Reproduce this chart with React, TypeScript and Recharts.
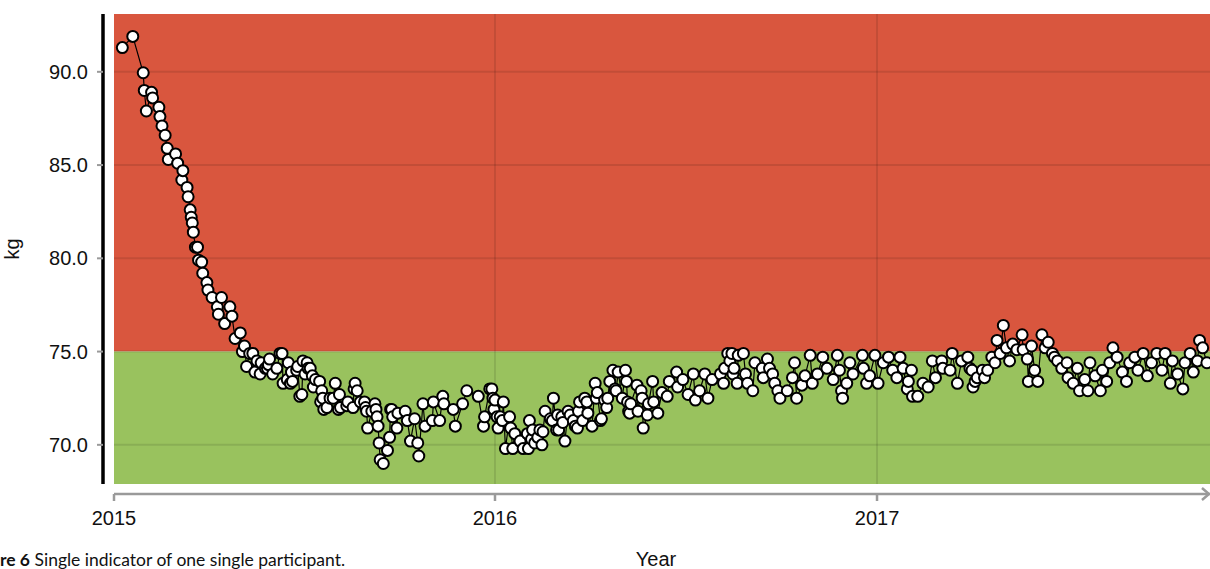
import { ComposedChart, Line, XAxis, YAxis, ReferenceArea, ReferenceLine, Label } from 'recharts'

// day = days since 1 Jan 2015, kg = body weight reading
const readings2015 = [
  [8, 91.3], [18, 91.9], [28, 89.95], [29, 89.0], [31, 87.9], [36, 88.9], [37, 88.6], [43, 88.1],
  [44, 87.6], [46, 87.1], [49, 86.6], [51, 85.9], [52, 85.3], [59, 85.6], [61, 85.1], [65, 84.2],
  [66, 84.7], [70, 83.8], [71, 83.3], [73, 82.6], [74, 82.2], [75, 81.9], [76, 81.4], [78, 80.6],
  [80, 80.6], [81, 79.9], [84, 79.8], [85, 79.2], [89, 78.7], [90, 78.3], [94, 77.9], [99, 77.4],
  [100, 77.0], [103, 77.9], [106, 76.5], [111, 77.4], [113, 76.9], [116, 75.7], [121, 76.0], [123, 75.0],
  [125, 75.3], [127, 74.2], [130, 74.9], [133, 74.9], [135, 73.9], [137, 74.5], [140, 73.8], [141, 74.4],
  [145, 74.1], [147, 74.1], [148, 74.3], [149, 74.6], [152, 73.8], [156, 74.1], [159, 74.9], [161, 74.9],
  [162, 73.3], [166, 73.5], [167, 74.4], [169, 73.3], [170, 73.9], [171, 73.4], [175, 74.0], [176, 74.2],
  [178, 72.6], [180, 72.7], [181, 74.5], [183, 73.8], [185, 74.4], [186, 74.1], [188, 74.1], [190, 73.7],
  [191, 73.1], [193, 73.5], [197, 73.4], [198, 72.3], [199, 72.9], [200, 72.5], [201, 71.9], [204, 72.0],
  [207, 72.5], [210, 72.5], [212, 73.3], [215, 71.9], [216, 72.7], [217, 72.0], [223, 72.1], [224, 72.3],
  [229, 72.0], [230, 73.0], [231, 73.3], [233, 72.9], [236, 72.3], [240, 72.3], [241, 72.0], [242, 71.8],
  [243, 70.9], [247, 71.8], [250, 72.2], [251, 71.9], [252, 71.5], [253, 71.0], [254, 70.1], [255, 69.2],
  [258, 69.0], [262, 69.7], [264, 70.4], [265, 71.9], [266, 71.9], [267, 71.5], [271, 70.9], [272, 71.7],
  [279, 71.8], [281, 71.3], [284, 70.2], [288, 71.4], [291, 70.1], [292, 69.4], [296, 72.2], [298, 71.0],
  [305, 71.3], [306, 72.3], [312, 71.3], [315, 72.6], [316, 72.2], [325, 71.9], [327, 71.0], [334, 72.2],
  [338, 72.9], [349, 72.6], [354, 71.0], [355, 71.5], [360, 73.0], [362, 73.0], [363, 72.5], [364, 71.9],
]

const readings2016 = [
  [365, 72.4], [367, 71.5], [368, 70.9], [370, 71.5], [372, 71.3], [373, 72.3], [375, 69.8], [379, 71.5],
  [380, 70.9], [382, 69.8], [384, 70.6], [389, 70.2], [392, 69.8], [396, 70.6], [397, 69.8], [398, 71.3],
  [400, 70.3], [401, 70.8], [403, 70.1], [406, 70.4], [408, 70.8], [410, 70.0], [411, 70.7], [413, 71.8],
  [418, 71.4], [420, 71.3], [421, 72.5], [424, 70.8], [425, 71.6], [426, 70.8], [429, 71.5], [430, 71.2],
  [432, 70.2], [435, 71.8], [437, 71.6], [440, 71.3], [442, 71.0], [444, 70.9], [445, 71.8], [446, 72.3],
  [449, 71.3], [451, 72.5], [453, 72.3], [454, 71.7], [458, 71.0], [461, 73.3], [462, 72.5], [463, 72.8],
  [466, 71.3], [467, 71.4], [470, 72.4], [472, 72.0], [473, 72.5], [475, 73.4], [478, 74.0], [480, 73.0],
  [481, 72.9], [483, 73.9], [487, 72.5], [490, 74.0], [491, 73.4], [492, 72.3], [493, 71.8], [494, 71.7],
  [495, 72.2], [501, 73.2], [502, 71.8], [505, 72.9], [506, 72.5], [507, 70.9], [511, 71.6], [512, 72.2],
  [516, 73.4], [517, 72.3], [521, 71.7], [525, 72.8], [530, 72.6], [532, 73.4], [539, 73.9], [540, 73.1],
  [545, 73.5], [550, 72.7], [555, 73.8], [557, 72.4], [561, 72.9], [566, 73.8], [569, 72.5], [573, 73.5],
  [581, 73.8], [584, 73.3], [585, 74.1], [588, 74.9], [590, 74.5], [592, 74.9], [593, 73.8], [594, 74.1],
  [597, 73.3], [598, 74.8], [603, 74.9], [605, 73.8], [607, 73.3], [612, 72.9], [614, 74.4], [621, 74.1],
  [622, 73.6], [626, 74.6], [628, 74.1], [631, 73.8], [633, 73.3], [636, 72.9], [638, 72.5], [645, 72.9],
  [650, 73.6], [652, 74.4], [654, 72.5], [659, 73.2], [662, 73.7], [667, 74.8], [669, 73.3], [674, 73.8],
  [679, 74.7], [683, 74.1], [689, 73.5], [693, 74.8], [695, 74.0], [697, 72.9], [698, 72.5], [702, 73.3],
  [705, 74.4], [708, 73.8], [717, 74.8], [718, 74.1], [721, 73.3], [724, 73.7], [729, 74.8],
]

const readings2017 = [
  [732, 73.3], [737, 74.4], [742, 74.7], [746, 74.0], [750, 73.6], [753, 74.7], [756, 74.1], [760, 73.0],
  [761, 73.4], [764, 74.0], [765, 72.6], [770, 72.6], [775, 73.3], [780, 73.1], [784, 74.5], [787, 73.6],
  [793, 74.5], [794, 74.1], [801, 74.0], [803, 74.9], [808, 73.3], [812, 74.5], [818, 74.7], [820, 74.1],
  [822, 74.0], [823, 73.1], [825, 73.4], [827, 73.6], [832, 74.0], [834, 73.6], [837, 74.0], [841, 74.7],
  [844, 74.4], [846, 75.6], [849, 74.9], [852, 76.4], [855, 75.2], [858, 74.5], [861, 75.4], [865, 75.1],
  [870, 75.9], [871, 75.1], [875, 74.6], [876, 73.4], [879, 75.3], [882, 74.0], [885, 73.4], [889, 75.9],
  [892, 75.2], [895, 75.5], [899, 74.9], [901, 74.7], [904, 74.5], [908, 74.1], [913, 74.4], [914, 73.6],
  [919, 73.3], [923, 74.1], [925, 72.9], [930, 73.5], [933, 72.9], [935, 74.4], [940, 73.7], [945, 72.9],
  [947, 74.0], [951, 73.4], [954, 74.4], [957, 75.2], [961, 74.7], [966, 73.9], [970, 73.4], [973, 74.4],
  [978, 74.7], [981, 74.0], [986, 74.9], [990, 73.7], [994, 74.4], [999, 74.9], [1004, 74.0], [1007, 74.9],
  [1012, 73.3], [1014, 74.5], [1019, 73.8], [1024, 73.0], [1026, 74.4], [1031, 74.9], [1034, 73.9], [1038, 74.5],
  [1040, 75.6], [1043, 75.2], [1047, 74.4],
]

const yearTicks = [0, 365, 731]
const yearLabels = ['2015', '2016', '2017']
const kgTicks = [70, 75, 80, 85, 90]
const targetKg = 75
const kgMin = 67.9
const kgMax = 93.1
const dayMax = 1050

const data = [...readings2015, ...readings2016, ...readings2017].map(([day, kg]) => ({ day, kg }))

const font = '"Liberation Sans", Arial, sans-serif'
const gridStroke = 'rgba(0,0,0,0.1)'

export default function App() {
  return (
    <div style={{ position: 'absolute', left: 0, top: 0, width: 1210, height: 569, background: '#fff', overflow: 'hidden' }}>
      <ComposedChart width={1210} height={569} data={data} margin={{ top: 14, right: 0, left: 0, bottom: 45 }}>
        <ReferenceArea y1={targetKg} y2={kgMax} fill="#d9563e" fillOpacity={1} stroke="none" />
        <ReferenceArea y1={kgMin} y2={targetKg} fill="#99c25e" fillOpacity={1} stroke="none" />
        {kgTicks.map((v) => (
          <ReferenceLine key={'y' + v} y={v} stroke={gridStroke} strokeWidth={2} />
        ))}
        {yearTicks.slice(1).map((v) => (
          <ReferenceLine key={'x' + v} x={v} stroke={gridStroke} strokeWidth={2} />
        ))}
        <XAxis
          type="number"
          dataKey="day"
          domain={[0, dayMax]}
          allowDataOverflow
          ticks={yearTicks}
          tickFormatter={(v) => yearLabels[yearTicks.indexOf(v)]}
          height={40}
          axisLine={{ stroke: '#9a9a9a', strokeWidth: 2.5, transform: 'translate(0,10)' }}
          tickLine={{ stroke: '#9a9a9a', strokeWidth: 2.5, transform: 'translate(0,10)' }}
          tickSize={7}
          tickMargin={20}
          tick={{ fill: '#111', fontSize: 20, fontFamily: font }}
        >
          <Label value="Year" position="bottom" offset={28} dx={-6} style={{ fill: '#111', fontSize: 20, fontFamily: font }} />
        </XAxis>
        <YAxis
          type="number"
          domain={[kgMin, kgMax]}
          allowDataOverflow
          ticks={kgTicks}
          tickFormatter={(v) => v.toFixed(1)}
          width={114}
          axisLine={{ stroke: '#000', strokeWidth: 3.5, transform: 'translate(-11,0)' }}
          tickLine={{ stroke: '#9a9a9a', strokeWidth: 2, transform: 'translate(-11,0)' }}
          tickSize={6}
          tickMargin={20}
          tick={{ fill: '#111', fontSize: 20, fontFamily: font }}
        >
          <Label value="kg" angle={-90} position="insideLeft" offset={12} style={{ fill: '#111', fontSize: 20, fontFamily: font, textAnchor: 'middle' }} />
        </YAxis>
        <Line
          type="linear"
          dataKey="kg"
          stroke="#000"
          strokeWidth={1.2}
          dot={{ r: 5.5, fill: '#fff', stroke: '#000', strokeWidth: 2 }}
          activeDot={false}
          isAnimationActive={false}
        />
      </ComposedChart>
      <svg width={12} height={14} style={{ position: 'absolute', left: 1199, top: 487 }}>
        <polyline points="3,1 10,7 3,13" fill="none" stroke="#9a9a9a" strokeWidth={2.5} />
      </svg>
      <div style={{ position: 'absolute', left: 0, top: 549, fontFamily: 'Lato, "Open Sans", sans-serif', fontSize: 17.5, color: '#111', whiteSpace: 'nowrap' }}>
        <b>re 6</b> Single indicator of one single participant.
      </div>
    </div>
  )
}
